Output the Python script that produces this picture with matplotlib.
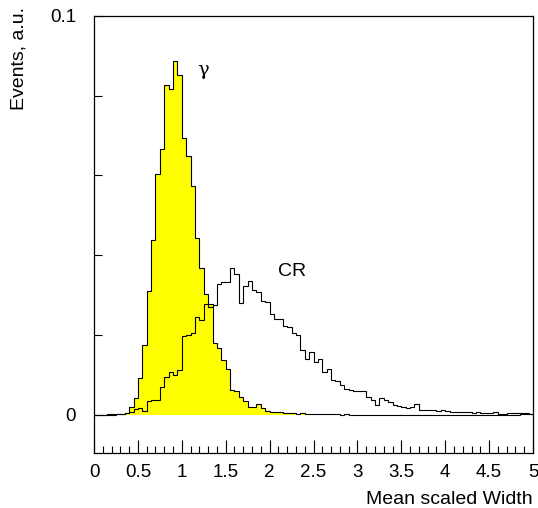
import matplotlib
matplotlib.use('Agg')
import matplotlib.pyplot as plt
import numpy as np
from matplotlib.ticker import MultipleLocator, FuncFormatter

plt.rcParams['font.family'] = ['Liberation Sans', 'DejaVu Sans']

# Histogrammes : 100 bins de largeur 0.05 entre 0 et 5
x_min, x_max, n_bins = 0.0, 5.0, 100

# Photons (gamma) - histogramme rempli en jaune
gamma = [
    0, 0, 0, 0, 0, 0.0001, 0.0002, 0.0004, 0.0020, 0.0042,
    0.0092, 0.0174, 0.0310, 0.0438, 0.0603, 0.0666, 0.0827, 0.0818, 0.0888, 0.0852,
    0.0693, 0.0649, 0.0574, 0.0444, 0.0369, 0.0303, 0.0278, 0.0180, 0.0168, 0.0136,
    0.0115, 0.0062, 0.0059, 0.0044, 0.0035, 0.0020, 0.0020, 0.0027, 0.0017, 0.0010,
    0.0008, 0.0006, 0.0006, 0.0005, 0.0004, 0.0004, 0.0003, 0.0004, 0.0003, 0.0002,
    0.0003, 0.0002, 0.0001, 0.0001, 0.0001, 0.0001, 0, 0.0001, 0, 0,
    0, 0, 0, 0, 0, 0, 0, 0, 0, 0,
    0, 0, 0, 0, 0, 0, 0, 0, 0, 0,
    0, 0, 0, 0, 0, 0, 0, 0, 0, 0,
    0, 0, 0, 0, 0, 0, 0, 0.0001, 0.0001, 0.0001,
]

# Rayons cosmiques (CR) - contour seulement
cr = [
    0, 0, 0, 0.0001, 0.0001, 0.0001, 0.0002, 0.0004, 0.0007, 0.0015,
    0.0017, 0.0010, 0.0034, 0.0038, 0.0038, 0.0069, 0.0094, 0.0106, 0.0100, 0.0111,
    0.0198, 0.0201, 0.0204, 0.0245, 0.0238, 0.0278, 0.0270, 0.0274, 0.0328, 0.0332,
    0.0332, 0.0369, 0.0352, 0.0280, 0.0322, 0.0335, 0.0313, 0.0308, 0.0286, 0.0283,
    0.0253, 0.0241, 0.0239, 0.0222, 0.0219, 0.0205, 0.0200, 0.0163, 0.0140, 0.0157,
    0.0131, 0.0140, 0.0106, 0.0115, 0.0087, 0.0084, 0.0075, 0.0064, 0.0062, 0.0060,
    0.0060, 0.0059, 0.0045, 0.0038, 0.0025, 0.0041, 0.0037, 0.0031, 0.0025, 0.0023,
    0.0020, 0.0018, 0.0019, 0.0028, 0.0013, 0.0011, 0.0011, 0.0012, 0.0010, 0.0012,
    0.0010, 0.0008, 0.0007, 0.0007, 0.0007, 0.0007, 0.0005, 0.0006, 0.0005, 0.0005,
    0.0004, 0.0006, 0.0003, 0.0003, 0.0004, 0.0004, 0.0005, 0.0005, 0.0004, 0.0003,
]

edges = np.linspace(x_min, x_max, n_bins + 1)

fig = plt.figure(figsize=(5.38, 5.08), dpi=100)
ax = fig.add_axes([94 / 538, 1 - 453 / 508, 439 / 538, 437 / 508])

# gamma : remplissage jaune puis contour noir
ax.stairs(gamma, edges, fill=True, color='#ffff00', linewidth=0)
ax.stairs(gamma, edges, color='black', linewidth=0.8)
# CR : contour noir
ax.stairs(cr, edges, color='black', linewidth=0.8)

ax.set_xlim(0, 5)
ax.set_ylim(-0.0096, 0.1)

# graduations
ax.xaxis.set_major_locator(MultipleLocator(0.5))
ax.xaxis.set_minor_locator(MultipleLocator(0.1))
ax.xaxis.set_major_formatter(FuncFormatter(lambda v, p: f'{v:g}'))
ax.set_yticks([0, 0.02, 0.04, 0.06, 0.08, 0.1])
ax.set_yticklabels(['0', '', '', '', '', '0.1'])
ax.tick_params(axis='x', which='major', direction='in', length=9.5, width=0.8,
               labelsize=13.5, pad=8, top=False)
ax.tick_params(axis='x', which='minor', direction='in', length=5, width=0.8, top=False)
ax.tick_params(axis='y', which='major', direction='in', length=5.5, width=0.8,
               labelsize=13.5, pad=13, right=False)
for s in ax.spines.values():
    s.set_linewidth(0.9)

# titres des axes
ax.set_xlabel('Mean scaled Width', fontsize=14, loc='right')
ax.xaxis.set_label_coords(1.0, -0.088)
ax.set_ylabel('Events, a.u.', fontsize=14, loc='top')
ax.yaxis.set_label_coords(-0.152, 1.02)

ax.text(1.24, 0.0865, 'γ', fontsize=14, family=['DejaVu Serif'], ha='center', va='center')
ax.text(2.255, 0.0358, 'CR', fontsize=14, ha='center', va='center')

plt.savefig('out.png', dpi=100)
